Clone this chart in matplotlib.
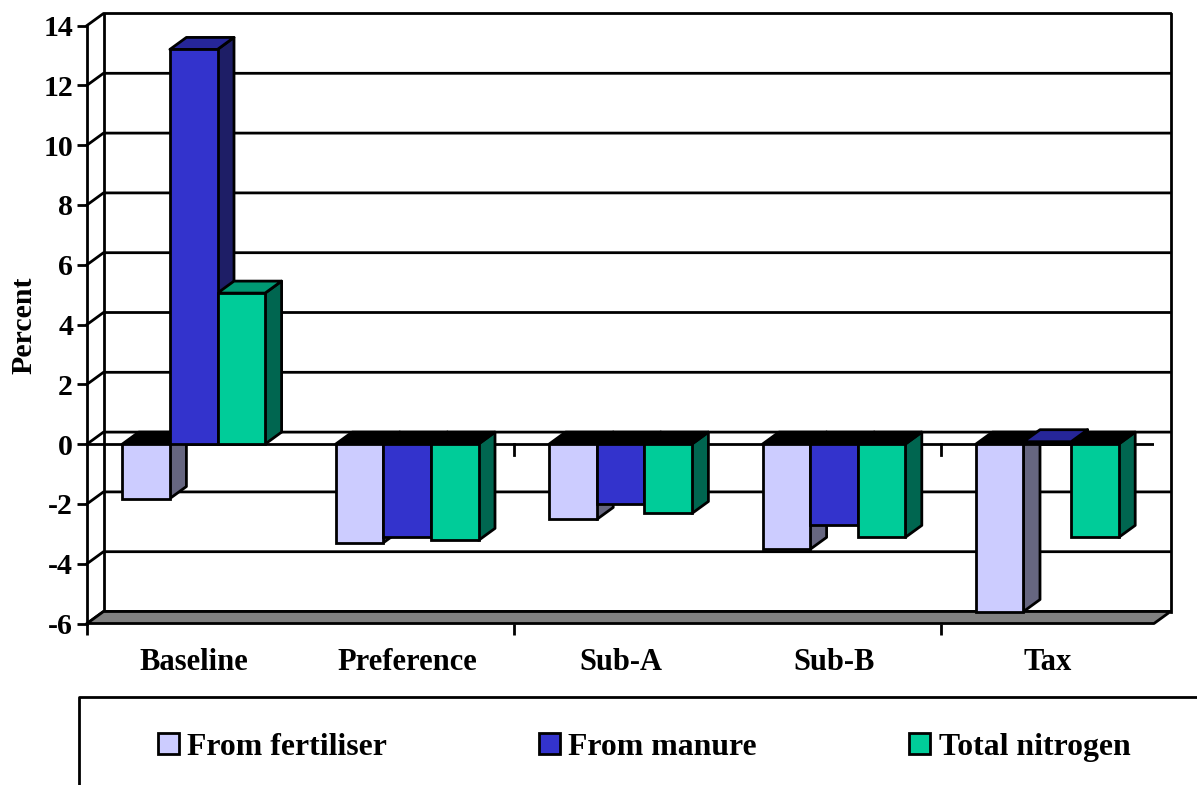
import matplotlib
matplotlib.use('Agg')
import matplotlib.pyplot as plt
from matplotlib.patches import Polygon, Rectangle
from matplotlib.lines import Line2D
import numpy as np

categories = ['Baseline', 'Preference', 'Sub-A', 'Sub-B', 'Tax']
series_names = ['From fertiliser', 'From manure', 'Total nitrogen']
fertiliser = [-1.82, -3.3, -2.52, -3.52, -5.6]
manure = [13.2, -3.12, -2.02, -2.72, 0.08]
total_nitrogen = [5.05, -3.22, -2.32, -3.12, -3.12]
y_ticks = [-6, -4, -2, 0, 2, 4, 6, 8, 10, 12, 14]

# front, side, top colours for each series
front_cols = ['#CCCCFF', '#3333CC', '#00CC99']
side_cols = ['#666680', '#1E1E66', '#006650']
top_cols = ['#9999BF', '#262699', '#009973']

W, H = 1197, 785
plt.rcParams['font.family'] = ['Liberation Serif', 'DejaVu Serif']
plt.rcParams['font.weight'] = 'bold'

fig = plt.figure(figsize=(W / 100, H / 100), dpi=100)
ax = fig.add_axes([87 / W, 1 - 623.5 / H, (1154 - 87) / W, 598 / H])
ax.set_xlim(0, 5)
ax.set_ylim(-6, 14)

# depth of the fake 3d box, in data units
dx = 16.5 / 213.4
dy = 12 / 29.9
bar_w = 47.6 / 213.4
lw = 2.0

# back wall
ax.plot([dx, dx], [-6 + dy, 14 + dy], color='k', lw=lw, clip_on=False, zorder=1)
ax.plot([5 + dx, 5 + dx], [-6 + dy, 14 + dy], color='k', lw=lw, clip_on=False, zorder=1)
for t in y_ticks:
    ax.plot([0, dx, 5 + dx], [t, t + dy, t + dy], color='k', lw=lw, clip_on=False, zorder=1)

# floor
ax.add_patch(Polygon([(0, -6), (dx, -6 + dy), (5 + dx, -6 + dy), (5, -6)], closed=True,
                     facecolor='#808080', edgecolor='k', lw=lw, clip_on=False, zorder=2,
                     joinstyle='round'))

# zero line with its ticks
ax.plot([0, 5], [0, 0], color='k', lw=lw, zorder=3)
for t in [2, 4]:
    ax.plot([t, t], [0, -0.38], color='k', lw=lw, zorder=3)

all_values = [fertiliser, manure, total_nitrogen]
z = 4
for i in range(len(categories)):
    for k, vals in enumerate(all_values):
        v = vals[i]
        x0 = i + 0.5 + (k - 1.5) * bar_w
        x1 = x0 + bar_w
        top = max(v, 0)
        # side face
        ax.add_patch(Polygon([(x1, 0), (x1 + dx, dy), (x1 + dx, v + dy), (x1, v)], closed=True,
                             facecolor=side_cols[k], edgecolor='k', lw=lw, clip_on=False, zorder=z,
                             joinstyle='round'))
        # top face, black for the bars hanging below zero
        top_col = top_cols[k] if v > 0 else 'k'
        ax.add_patch(Polygon([(x0, top), (x0 + dx, top + dy), (x1 + dx, top + dy), (x1, top)], closed=True,
                             facecolor=top_col, edgecolor='k', lw=lw, clip_on=False, zorder=z,
                             joinstyle='round'))
        # front face
        ax.add_patch(Rectangle((x0, 0), bar_w, v, facecolor=front_cols[k], edgecolor='k',
                               lw=lw, clip_on=False, zorder=z + 1))
    z += 2

for s in ['top', 'right', 'bottom']:
    ax.spines[s].set_visible(False)
ax.spines['left'].set_linewidth(lw)
ax.patch.set_visible(False)

ax.set_yticks(y_ticks)
ax.set_yticklabels([str(t) for t in y_ticks], fontsize=21.5, fontweight='bold')
ax.tick_params(axis='y', length=7, width=lw, pad=3)
ax.set_xticks(np.arange(5) + 0.5)
ax.set_xticklabels(categories, fontsize=22, fontweight='bold')
ax.tick_params(axis='x', which='major', length=0, pad=18)
ax.set_xticks([0, 2, 4], minor=True)
ax.tick_params(axis='x', which='minor', length=8, width=lw)

fig.text(24 / W, 1 - 325 / H, 'Percent', rotation=90, ha='center', va='center',
         fontsize=21.5, fontweight='bold')

# legend box runs off the page on the right and bottom
fig.add_artist(Line2D([79 / W, 79 / W, 1], [0, 1 - 697 / H, 1 - 697 / H], color='k', lw=lw))
swatch_x = [158, 539, 909]
text_x = [187, 568, 939]
for name, col, sx, tx in zip(series_names, front_cols, swatch_x, text_x):
    fig.add_artist(Rectangle((sx / W, 1 - 754 / H), 21 / W, 21 / H, transform=fig.transFigure,
                             facecolor=col, edgecolor='k', lw=lw))
    fig.text(tx / W, 1 - 744 / H, name, ha='left', va='center_baseline', fontsize=22.9, fontweight='bold')

fig.savefig('out.png', dpi=100)
